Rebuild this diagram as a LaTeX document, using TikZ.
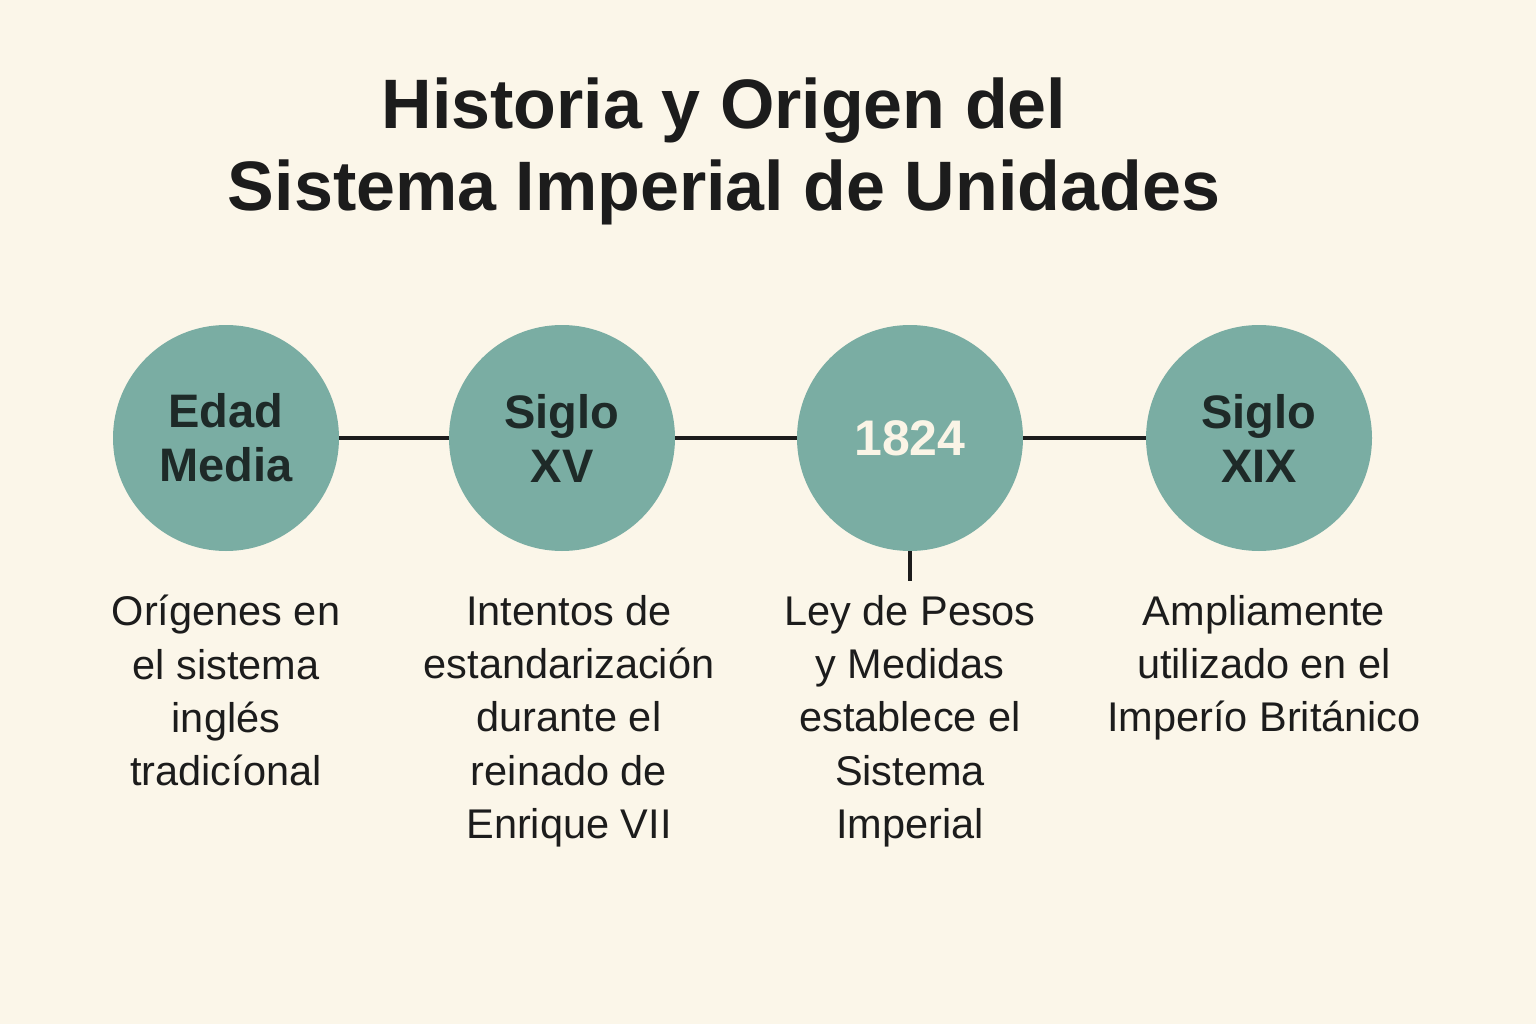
\documentclass[tikz,border=0pt]{standalone}
\usepackage{fontspec}
\setmainfont{Liberation Sans}
\definecolor{bgc}{HTML}{FBF6E9}
\definecolor{circc}{HTML}{7AADA3}
\definecolor{inkc}{HTML}{1C1C1C}
\definecolor{circtext}{HTML}{1E2A28}
\definecolor{yeartext}{HTML}{FAF4E6}
\tikzset{
  era/.style={circle, fill=circc, draw=none, minimum size=226pt, inner sep=0pt,
    align=center, font=\fontsize{47}{54}\selectfont\bfseries, text=circtext},
  yearera/.style={era, font=\fontsize{50}{54}\selectfont\bfseries, text=yeartext},
  desc/.style={anchor=north, align=center, inner sep=0pt,
    font=\fontsize{41.5}{53.3}\selectfont, text=inkc},
  link/.style={draw=inkc, line width=4pt},
  titletext/.style={align=center, inner sep=0pt, font=\fontsize{70}{82}\selectfont\bfseries, text=inkc}
}
\begin{document}
\begin{tikzpicture}[x=1pt,y=-1pt]
\fill[bgc] (0,0) rectangle (1536,1024);
\useasboundingbox (0,0) rectangle (1536,1024);
\node[titletext] (title) at (724,151) {Historia y Origen del\\Sistema Imperial de Unidades};
\node[era] (c1) at (226,438) {Edad\\Media};
\node[era] (c2) at (562,438) {Siglo\\XV};
\node[yearera] (c3) at (910,438) {1824};
\node[era] (c4) at (1259,438) {Siglo\\XIX};
\draw[link] (c1.east) -- (c2.west);
\draw[link] (c2.east) -- (c3.west);
\draw[link] (c3.east) -- (c4.west);
\coordinate (tickend) at (910,581);
\draw[link] (c3.south) -- (tickend);
\node[desc] (d1) at (226,595) {Orígenes en\\el sistema\\inglés\\tradicíonal};
\node[desc] (d2) at (569,595) {Intentos de\\estandarización\\durante el\\reinado de\\Enrique VII};
\node[desc] (d3) at (910,595) {Ley de Pesos\\y Medidas\\establece el\\Sistema\\Imperial};
\node[desc] (d4) at (1264,595) {Ampliamente\\utilizado en el\\Imperío Británico};
\end{tikzpicture}
\end{document}
